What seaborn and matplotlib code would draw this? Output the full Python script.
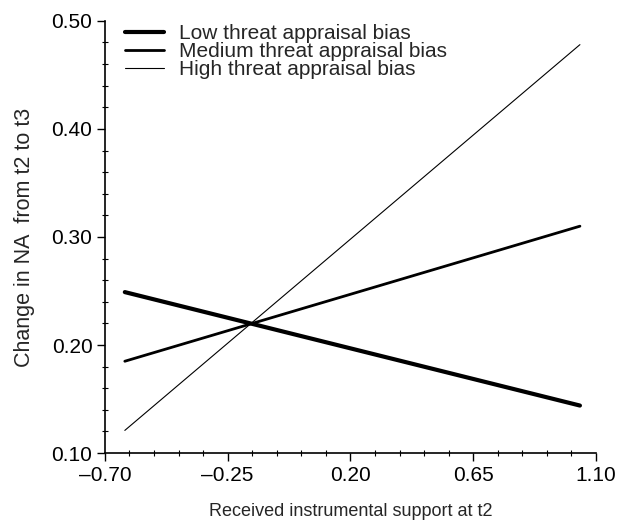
import pandas as pd
import matplotlib
matplotlib.use("Agg")
import matplotlib.pyplot as plt
from matplotlib.ticker import FixedLocator, MultipleLocator
import seaborn as sns

# Wartości (proste nachylenia)
support = [-0.627, 1.041]
low_bias = [0.249, 0.144]
medium_bias = [0.185, 0.310]
high_bias = [0.121, 0.478]

groups = ['Low threat appraisal bias', 'Medium threat appraisal bias', 'High threat appraisal bias']
widths = [3.0, 2.0, 0.8]

x_ticks = [-0.70, -0.25, 0.20, 0.65, 1.10]
x_labels = ['\u20130.70', '\u20130.25', '0.20', '0.65', '1.10']
y_ticks = [0.10, 0.20, 0.30, 0.40, 0.50]
y_labels = ['0.10', '0.20', '0.30', '0.40', '0.50']

df = pd.DataFrame({
    'x': support * 3,
    'y': low_bias + medium_bias + high_bias,
    'group': [groups[0]] * 2 + [groups[1]] * 2 + [groups[2]] * 2,
})

sns.set_style('ticks')
plt.rcParams['font.family'] = ['Liberation Sans', 'DejaVu Sans']

fig = plt.figure(figsize=(6.17, 5.22), dpi=100)
ax = fig.add_axes([0.170, 0.132, 0.796, 0.828])

for g, lw in zip(groups, widths):
    sns.lineplot(data=df[df['group'] == g], x='x', y='y', color='black',
                 linewidth=lw, label=g, ax=ax)

ax.set_xlim(-0.70, 1.10)
ax.set_ylim(0.10, 0.50)
ax.set_xticks(x_ticks)
ax.set_xticklabels(x_labels)
ax.set_yticks(y_ticks)
ax.set_yticklabels(y_labels)
ax.xaxis.set_minor_locator(FixedLocator([-0.70 + 0.09 * i for i in range(21)]))
ax.yaxis.set_minor_locator(MultipleLocator(0.02))

ax.tick_params(axis='both', which='major', direction='out', length=6, width=1,
               labelsize=15, colors='black', pad=3)
ax.tick_params(axis='both', which='minor', direction='inout', length=4, width=0.8,
               colors='black')

for s in ['top', 'right']:
    ax.spines[s].set_visible(False)
for s in ['left', 'bottom']:
    ax.spines[s].set_linewidth(1.2)
    ax.spines[s].set_color('black')

ax.set_xlabel('Received instrumental support at t2', fontsize=13, labelpad=13)
ax.set_ylabel('Change in NA  from t2 to t3', fontsize=15.5, labelpad=12)

leg = ax.legend(loc='upper left', frameon=False, fontsize=15, handlelength=1.9,
                handletextpad=0.7, borderaxespad=0.0, labelspacing=-0.05,
                bbox_to_anchor=(0.023, 1.012))

fig.savefig('out.png', dpi=100)
